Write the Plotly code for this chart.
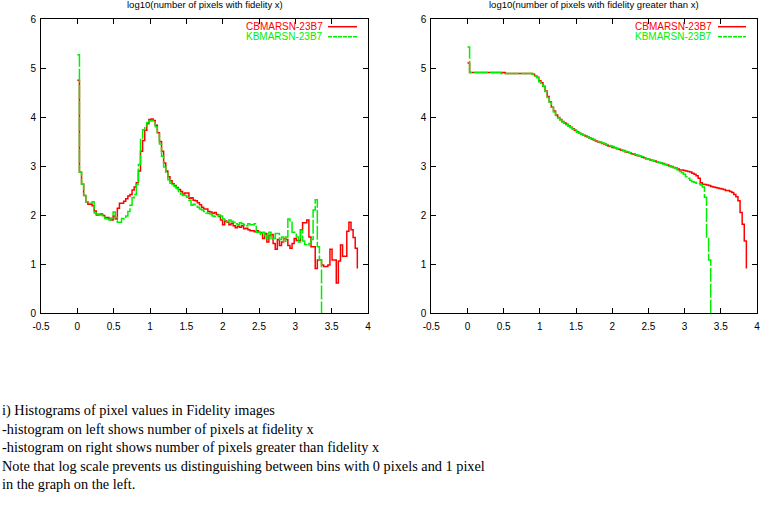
import plotly.graph_objects as go

# ---------------- data ----------------
bin_width = 0.02897          # width of a fidelity bin (x units)

x_tick_vals = [-0.5, 0, 0.5, 1, 1.5, 2, 2.5, 3, 3.5, 4]
x_tick_labels = ["-0.5", "0", "0.5", "1", "1.5", "2", "2.5", "3", "3.5", "4"]
y_tick_vals = [0, 1, 2, 3, 4, 5, 6]
y_tick_labels = ["0", "1", "2", "3", "4", "5", "6"]

series_names = ["CBMARSN-23B7", "KBMARSN-23B7"]
left_title = "log10(number of pixels with fidelity x)"
right_title = "log10(number of pixels with fidelity greater than x)"

# left: log10(number of pixels in each bin)
red_left = [
    4.75, 2.87, 2.63, 2.40, 2.27, 2.22, 2.22, 2.19, 2.08, 2.00,
    2.01, 2.02, 1.99, 1.95, 1.95, 1.92, 1.90, 1.98, 1.92, 2.14,
    2.24, 2.24, 2.28, 2.33, 2.39, 2.42, 2.51, 2.57, 2.66, 2.90,
    3.30, 3.52, 3.73, 3.86, 3.95, 3.96, 3.93, 3.83, 3.68, 3.50,
    3.30, 3.06, 2.90, 2.78, 2.70, 2.64, 2.60, 2.56, 2.52, 2.48,
    2.43, 2.45, 2.45, 2.34, 2.35, 2.30, 2.29, 2.25, 2.21, 2.16,
    2.12, 2.12, 2.07, 2.06, 2.03, 2.05, 2.01, 1.97, 1.90, 1.80,
    1.88, 1.85, 1.80, 1.83, 1.78, 1.74, 1.77, 1.75, 1.78, 1.72,
    1.73, 1.70, 1.68, 1.68, 1.66, 1.68, 1.65, 1.64, 1.52, 1.62,
    1.45, 1.58, 1.60, 1.42, 1.30, 1.50, 1.38, 1.45, 1.52, 1.50,
    1.38, 1.32, 1.42, 1.52, 1.48, 1.48, 1.70, 1.84, 1.84, 1.90,
    1.55, 1.35, 1.35, 0.91, 1.08, 1.08, 0.98, 0.95, 0.95, 0.98,
    1.30, 1.08, 1.08, 0.61, 1.06, 1.39, 1.16, 1.16, 1.67, 1.85,
    1.70, 1.54, 1.32, 0.91,
]
green_left = [
    5.27, 2.87, 2.63, 2.40, 2.27, 2.24, 2.24, 2.27, 2.04, 2.02,
    2.00, 2.00, 1.96, 1.93, 1.92, 1.90, 1.94, 2.06, 1.95, 1.85,
    1.85, 1.93, 1.92, 1.98, 2.07, 2.20, 2.35, 2.42, 2.62, 3.03,
    3.57, 3.74, 3.82, 3.89, 3.92, 3.93, 3.90, 3.80, 3.66, 3.45,
    3.20, 2.98, 2.85, 2.72, 2.65, 2.62, 2.58, 2.54, 2.48, 2.43,
    2.40, 2.40, 2.36, 2.30, 2.20, 2.22, 2.18, 2.16, 2.12, 2.10,
    2.07, 2.04, 2.03, 2.02, 1.98, 1.97, 1.97, 2.00, 1.98, 1.92,
    1.90, 1.86, 1.90, 1.87, 1.85, 1.82, 1.80, 1.84, 1.82, 1.80,
    1.78, 1.82, 1.80, 1.80, 1.82, 1.65, 1.65, 1.60, 1.65, 1.58,
    1.52, 1.65, 1.50, 1.52, 1.62, 1.62, 1.50, 1.55, 1.45, 1.55,
    1.92, 1.85, 1.65, 1.65, 1.55, 1.45, 1.69, 1.47, 1.40, 1.38,
    1.42, 1.50, 2.10, 2.31, 1.35, 1.08, 0.00,
]

# right: log10(number of pixels with fidelity greater than x)
red_right = [
    5.10, 4.91, 4.91, 4.91, 4.91, 4.91, 4.91, 4.91, 4.91, 4.91,
    4.91, 4.91, 4.91, 4.91, 4.91, 4.91, 4.91, 4.91, 4.89, 4.89,
    4.89, 4.89, 4.89, 4.89, 4.89, 4.89, 4.89, 4.89, 4.89, 4.89,
    4.89, 4.87, 4.84, 4.81, 4.74, 4.70, 4.63, 4.53, 4.42, 4.31,
    4.20, 4.12, 4.04, 3.99, 3.95, 3.91, 3.88, 3.85, 3.82, 3.79,
    3.76, 3.73, 3.70, 3.67, 3.65, 3.63, 3.61, 3.59, 3.57, 3.55,
    3.53, 3.51, 3.49, 3.48, 3.46, 3.45, 3.43, 3.41, 3.40, 3.38,
    3.37, 3.35, 3.34, 3.32, 3.31, 3.29, 3.28, 3.27, 3.25, 3.24,
    3.22, 3.21, 3.20, 3.18, 3.17, 3.15, 3.14, 3.12, 3.11, 3.10,
    3.08, 3.07, 3.06, 3.05, 3.03, 3.02, 3.00, 2.99, 2.97, 2.96,
    2.94, 2.92, 2.92, 2.91, 2.90, 2.89, 2.88, 2.85, 2.83, 2.80,
    2.75, 2.66, 2.63, 2.62, 2.61, 2.60, 2.58, 2.57, 2.56, 2.55,
    2.54, 2.53, 2.52, 2.50, 2.50, 2.48, 2.46, 2.42, 2.37, 2.29,
    2.05, 1.81, 1.47, 0.91,
]
green_right = [
    5.43, 4.91, 4.91, 4.91, 4.91, 4.91, 4.91, 4.91, 4.91, 4.91,
    4.91, 4.91, 4.91, 4.91, 4.91, 4.91, 4.89, 4.89, 4.89, 4.89,
    4.89, 4.89, 4.89, 4.89, 4.89, 4.89, 4.89, 4.89, 4.89, 4.89,
    4.89, 4.87, 4.84, 4.80, 4.72, 4.70, 4.62, 4.52, 4.40, 4.30,
    4.20, 4.10, 4.03, 3.98, 3.94, 3.90, 3.87, 3.84, 3.81, 3.78,
    3.75, 3.72, 3.69, 3.67, 3.65, 3.63, 3.61, 3.59, 3.57, 3.56,
    3.54, 3.52, 3.50, 3.49, 3.47, 3.46, 3.44, 3.42, 3.41, 3.40,
    3.38, 3.36, 3.35, 3.33, 3.32, 3.30, 3.29, 3.27, 3.26, 3.25,
    3.23, 3.22, 3.20, 3.19, 3.17, 3.15, 3.14, 3.12, 3.11, 3.10,
    3.08, 3.07, 3.06, 3.04, 3.03, 3.02, 3.00, 2.98, 2.97, 2.95,
    2.92, 2.89, 2.86, 2.83, 2.78, 2.75, 2.71, 2.68, 2.67, 2.65,
    2.64, 2.61, 2.57, 2.36, 1.55, 1.08, 0.00,
]

caption_lines = [
    "i) Histograms of pixel values in Fidelity images",
    "-histogram on left shows number of pixels at fidelity x",
    "-histogram on right shows number of pixels greater than fidelity x",
    "Note that log scale prevents us distinguishing between bins with 0 pixels and 1 pixel",
    "in the graph on the left.",
]

# ---------------- figure ----------------
W, H = 760, 511
RED = "#ff0000"
GREEN = "#00ee00"
GREEN_DASH = "14px,2px"


def px_x(p):
    return p / W


def px_y(p):
    return 1 - p / H


def bins(values):
    return [i * bin_width for i in range(len(values))]


fig = go.Figure()
for vals, col, dash, xa, ya in [
    (red_left, RED, "solid", "x", "y"),
    (green_left, GREEN, GREEN_DASH, "x", "y"),
    (red_right, RED, "solid", "x2", "y2"),
    (green_right, GREEN, GREEN_DASH, "x2", "y2"),
]:
    fig.add_trace(go.Scatter(
        x=bins(vals), y=vals, mode="lines",
        line=dict(color=col, width=1.5, shape="hv", dash=dash),
        xaxis=xa, yaxis=ya, showlegend=False, hoverinfo="skip",
        cliponaxis=False,
    ))

tick_font = dict(family="Liberation Sans, Arial, sans-serif", size=10, color="black")
axis_common = dict(
    showline=True, linecolor="black", linewidth=1, mirror="ticks",
    ticks="inside", ticklen=5, tickcolor="black", tickwidth=1,
    showgrid=False, zeroline=False, tickfont=tick_font, fixedrange=True,
    automargin=False, ticklabeloverflow="allow",
)

left_dom = [px_x(41), px_x(368)]
right_dom = [px_x(431.3), px_x(757)]
y_dom = [px_y(313), px_y(19)]

fig.update_layout(
    width=W, height=H, autosize=False,
    margin=dict(l=0, r=0, t=0, b=0, pad=0, autoexpand=False),
    paper_bgcolor="white", plot_bgcolor="white",
    showlegend=False,
    xaxis=dict(domain=left_dom, range=[-0.5, 4], anchor="y", ticklabelstandoff=4,
               tickvals=x_tick_vals, ticktext=x_tick_labels, **axis_common),
    yaxis=dict(domain=y_dom, range=[0, 6], anchor="x", ticklabelstandoff=2,
               tickvals=y_tick_vals, ticktext=y_tick_labels, **axis_common),
    xaxis2=dict(domain=right_dom, range=[-0.5, 4], anchor="y2", ticklabelstandoff=4,
                tickvals=x_tick_vals, ticktext=x_tick_labels, **axis_common),
    yaxis2=dict(domain=y_dom, range=[0, 6], anchor="x2", ticklabelstandoff=2,
                tickvals=y_tick_vals, ticktext=y_tick_labels, **axis_common),
)

ann = []
sans = "Liberation Sans, Arial, sans-serif"
# panel titles
for dom, title in [(left_dom, left_title), (right_dom, right_title)]:
    ann.append(dict(x=(dom[0] + dom[1]) / 2, y=px_y(5), xref="paper", yref="paper",
                    text=title, showarrow=False, xanchor="center", yanchor="middle",
                    font=dict(family=sans, size=9.5, color="black")))

# legends (gnuplot style: text right-aligned, sample to its right)
shapes = []
for text_right, s0, s1 in [(325, 328, 357), (713.5, 718, 746)]:
    for row, (name, col, dash) in enumerate([(series_names[0], RED, "solid"),
                                             (series_names[1], GREEN, "4px,1px")]):
        yy = 26.7 + row * 10
        ann.append(dict(x=px_x(text_right), y=px_y(yy), xref="paper", yref="paper",
                        text=name, showarrow=False, xanchor="right", yanchor="middle",
                        font=dict(family=sans, size=10, color=col)))
        shapes.append(dict(type="line", xref="paper", yref="paper",
                           x0=px_x(s0), x1=px_x(s1), y0=px_y(yy), y1=px_y(yy),
                           line=dict(color=col, width=1.5, dash=dash)))

# caption
for k, line in enumerate(caption_lines):
    ann.append(dict(x=0, y=px_y(410 + k * 18.6), xref="paper", yref="paper",
                    text=line, showarrow=False, xanchor="left", yanchor="middle",
                    font=dict(family="Liberation Serif, Times New Roman, serif",
                              size=14.3, color="black")))

fig.update_layout(annotations=ann, shapes=shapes)
# remove the browser's default 8px page margin so the figure sits at (0, 0)
fig.write_html("out.html",
               config={"displayModeBar": False, "staticPlot": True},
               post_script="document.body.style.margin='0px';document.body.style.overflow='hidden';")
